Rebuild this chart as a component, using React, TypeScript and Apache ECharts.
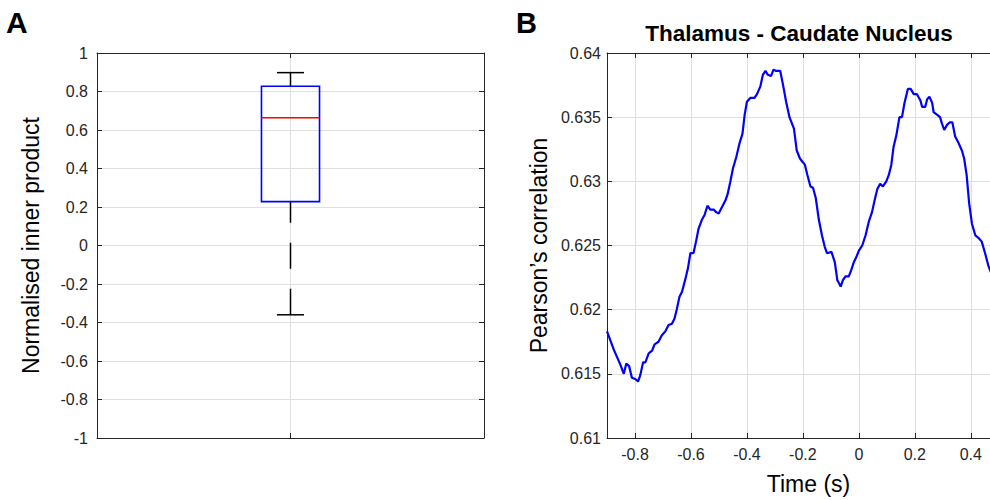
import React, { useEffect, useRef } from "react";
import * as echarts from "echarts";

// Panel A: box plot summary
const boxCategories = [1];
const boxMin = [-0.36];
const boxQ1 = [0.228];
const boxMedian = [0.664];
const boxQ3 = [0.827];
const boxMax = [0.898];
const yTicksA = { min: -1, max: 1, interval: 0.2 };

// Panel B: Thalamus - Caudate Nucleus correlation over time
const timeB = [
  -0.9, -0.888, -0.876, -0.864, -0.852, -0.84, -0.831, -0.821, -0.811, -0.799, -0.789, -0.781, -0.771, -0.763,
  -0.751, -0.739, -0.73, -0.716, -0.704, -0.692, -0.68, -0.668, -0.659, -0.651, -0.641, -0.632, -0.621, -0.611,
  -0.602, -0.591, -0.581, -0.573, -0.561, -0.551, -0.541, -0.531, -0.519, -0.51, -0.501, -0.489, -0.477, -0.469,
  -0.459, -0.45, -0.438, -0.426, -0.416, -0.408, -0.4, -0.388, -0.373, -0.364, -0.352, -0.343, -0.334, -0.325,
  -0.314, -0.305, -0.295, -0.281, -0.27, -0.26, -0.248, -0.232, -0.222, -0.211, -0.201, -0.193, -0.184, -0.173,
  -0.164, -0.154, -0.143, -0.132, -0.122, -0.114, -0.098, -0.086, -0.077, -0.072, -0.065, -0.057, -0.048, -0.036,
  -0.027, -0.018, -0.009, 0.0, 0.012, 0.024, 0.036, 0.047, 0.056, 0.066, 0.076, 0.086, 0.098, 0.107, 0.116,
  0.124, 0.134, 0.145, 0.154, 0.163, 0.175, 0.185, 0.196, 0.207, 0.22, 0.226, 0.237, 0.244, 0.252, 0.262,
  0.267, 0.279, 0.29, 0.297, 0.305, 0.315, 0.325, 0.334, 0.344, 0.356, 0.368, 0.376, 0.385, 0.394, 0.404,
  0.416, 0.427, 0.439, 0.451, 0.463, 0.472,
];
const corrB = [
  0.6183, 0.6176, 0.6169, 0.6163, 0.6157, 0.615, 0.6158, 0.6156, 0.6147, 0.6146, 0.6144, 0.6149, 0.6159, 0.6159,
  0.6166, 0.6168, 0.6173, 0.6175, 0.618, 0.6183, 0.6188, 0.6189, 0.6193, 0.62, 0.621, 0.6214, 0.6223, 0.6232,
  0.6244, 0.6244, 0.6254, 0.6263, 0.627, 0.6274, 0.6281, 0.6278, 0.6278, 0.6276, 0.6275, 0.628, 0.6285, 0.629,
  0.63, 0.631, 0.6319, 0.633, 0.6337, 0.6352, 0.6362, 0.6365, 0.6365, 0.6368, 0.6374, 0.6383, 0.6386, 0.6383,
  0.6382, 0.6387, 0.6386, 0.6386, 0.6374, 0.6362, 0.635, 0.6341, 0.6324, 0.6318, 0.6315, 0.6313, 0.6305, 0.6296,
  0.6295, 0.6287, 0.627, 0.6258, 0.6249, 0.6244, 0.6245, 0.6237, 0.6223, 0.6221, 0.6218, 0.6223, 0.6226, 0.6226,
  0.6231, 0.6237, 0.6241, 0.6246, 0.625, 0.6258, 0.6269, 0.6276, 0.6285, 0.6294, 0.6298, 0.6296, 0.63, 0.6305,
  0.6313, 0.6327, 0.6336, 0.635, 0.635, 0.6361, 0.6372, 0.6372, 0.6368, 0.6368, 0.6363, 0.6358, 0.6358, 0.6364,
  0.6366, 0.6361, 0.6354, 0.6352, 0.635, 0.6345, 0.634, 0.6344, 0.6346, 0.6346, 0.6335, 0.633, 0.6324, 0.6318,
  0.6305, 0.6283, 0.6267, 0.6258, 0.6256, 0.6253, 0.6244, 0.6234, 0.6229,
];
const xTicksB = [-0.8, -0.6, -0.4, -0.2, 0, 0.2, 0.4];
const yRangeB = { min: 0.61, max: 0.64, interval: 0.005 };

const FONT = '"Liberation Sans", Arial, Helvetica, sans-serif';
const AXIS_COLOR = "#262626";
const GRID_COLOR = "#dfdfdf";

export default function App() {
  const ref = useRef<HTMLDivElement>(null);

  useEffect(() => {
    if (!ref.current) return;
    const chart = echarts.init(ref.current, undefined, { renderer: "svg" });

    const axisLine = { show: true, onZero: false, lineStyle: { color: AXIS_COLOR, width: 1 } };
    const tickIn = { show: true, inside: true, length: 5, lineStyle: { color: AXIS_COLOR, width: 1 } };
    const split = { show: true, lineStyle: { color: GRID_COLOR, width: 1 } };
    const label = { color: AXIS_COLOR, fontSize: 16, fontFamily: FONT };
    const nameStyle = { color: "#000", fontSize: 23, fontFamily: FONT };

    const boxData = boxCategories.map((c, i) => [c, boxMin[i], boxQ1[i], boxMedian[i], boxQ3[i], boxMax[i]]);

    const option: any = {
      animation: false,
      backgroundColor: "#fff",
      grid: [
        { left: 97, top: 53, width: 387, height: 385 },
        { left: 607, top: 53, width: 403, height: 385 },
      ],
      xAxis: [
        {
          gridIndex: 0, type: "value", min: 0, max: 2, interval: 1, position: "bottom",
          axisLine, axisTick: tickIn, axisLabel: { show: false }, splitLine: split,
        },
        {
          gridIndex: 0, type: "value", min: 0, max: 2, interval: 1, position: "top",
          axisLine, axisTick: tickIn, axisLabel: { show: false }, splitLine: { show: false },
        },
        {
          gridIndex: 1, type: "value", min: -0.9, max: 0.54, position: "bottom",
          axisLine,
          axisTick: { ...tickIn, customValues: xTicksB },
          axisLabel: { ...label, margin: 8, customValues: xTicksB },
          splitLine: split,
          name: "Time (s)", nameLocation: "middle", nameGap: 34, nameTextStyle: nameStyle,
        },
        {
          gridIndex: 1, type: "value", min: -0.9, max: 0.54, position: "top",
          axisLine,
          axisTick: { ...tickIn, customValues: xTicksB },
          axisLabel: { show: false, customValues: xTicksB },
          splitLine: { show: false },
        },
      ],
      yAxis: [
        {
          gridIndex: 0, type: "value", ...yTicksA, position: "left",
          axisLine, axisTick: tickIn, axisLabel: { ...label, margin: 9 }, splitLine: split,
          name: "Normalised inner product", nameLocation: "middle", nameGap: 55, nameTextStyle: nameStyle,
        },
        {
          gridIndex: 0, type: "value", ...yTicksA, position: "right",
          axisLine, axisTick: tickIn, axisLabel: { show: false }, splitLine: { show: false },
        },
        {
          gridIndex: 1, type: "value", ...yRangeB, position: "left",
          axisLine, axisTick: tickIn, axisLabel: { ...label, margin: 6 }, splitLine: split,
          name: "Pearson\u2019s correlation", nameLocation: "middle", nameGap: 57, nameTextStyle: nameStyle,
        },
      ],
      series: [
        {
          type: "custom",
          xAxisIndex: 0,
          yAxisIndex: 0,
          data: boxData,
          renderItem: (params: any, api: any) => {
            const x = api.value(0);
            const mn = api.value(1);
            const q1 = api.value(2);
            const md = api.value(3);
            const q3 = api.value(4);
            const mx = api.value(5);
            const halfBox = 0.15;
            const halfCap = 0.07;
            const pMin = api.coord([x, mn]);
            const pMax = api.coord([x, mx]);
            const pQ1 = api.coord([x, q1]);
            const pQ3 = api.coord([x, q3]);
            const bl = api.coord([x - halfBox, q3]);
            const br = api.coord([x + halfBox, q1]);
            const pMdL = api.coord([x - halfBox, md]);
            const pMdR = api.coord([x + halfBox, md]);
            const capMinL = api.coord([x - halfCap, mn]);
            const capMinR = api.coord([x + halfCap, mn]);
            const capMaxL = api.coord([x - halfCap, mx]);
            const capMaxR = api.coord([x + halfCap, mx]);
            const whisk = { stroke: "#000", lineWidth: 1.5, lineDash: [26, 20] };
            const solid = { stroke: "#000", lineWidth: 1.5 };
            return {
              type: "group",
              children: [
                { type: "line", shape: { x1: pMin[0], y1: pMin[1], x2: pQ1[0], y2: pQ1[1] }, style: whisk },
                { type: "line", shape: { x1: pMax[0], y1: pMax[1], x2: pQ3[0], y2: pQ3[1] }, style: whisk },
                { type: "line", shape: { x1: capMinL[0], y1: capMinL[1], x2: capMinR[0], y2: capMinR[1] }, style: solid },
                { type: "line", shape: { x1: capMaxL[0], y1: capMaxL[1], x2: capMaxR[0], y2: capMaxR[1] }, style: solid },
                {
                  type: "rect",
                  shape: { x: bl[0], y: bl[1], width: br[0] - bl[0], height: br[1] - bl[1] },
                  style: { fill: "none", stroke: "#0000ff", lineWidth: 1.6 },
                },
                { type: "line", shape: { x1: pMdL[0], y1: pMdL[1], x2: pMdR[0], y2: pMdR[1] }, style: { stroke: "#ff0000", lineWidth: 1.6 } },
              ],
            };
          },
        },
        {
          type: "line",
          xAxisIndex: 2,
          yAxisIndex: 2,
          data: timeB.map((t, i) => [t, corrB[i]]),
          showSymbol: false,
          symbol: "none",
          lineStyle: { color: "#0000ff", width: 2.2 },
          clip: true,
        },
      ],
      graphic: [
        { type: "text", x: 6, y: 22, style: { text: "A", font: `bold 30px ${FONT}`, fill: "#000", align: "left", verticalAlign: "middle" } },
        { type: "text", x: 516, y: 23, style: { text: "B", font: `bold 29px ${FONT}`, fill: "#000", align: "left", verticalAlign: "middle" } },
        { type: "text", x: 799, y: 33, style: { text: "Thalamus - Caudate Nucleus", font: `bold 22.5px ${FONT}`, fill: "#000", align: "center", verticalAlign: "middle" } },
      ],
    };

    chart.setOption(option);
    return () => chart.dispose();
  }, []);

  return (
    <div style={{ position: "fixed", left: 0, top: 0, width: 990, height: 500, overflow: "hidden", background: "#fff" }}>
      <div ref={ref} style={{ width: 1040, height: 500 }} />
    </div>
  );
}
